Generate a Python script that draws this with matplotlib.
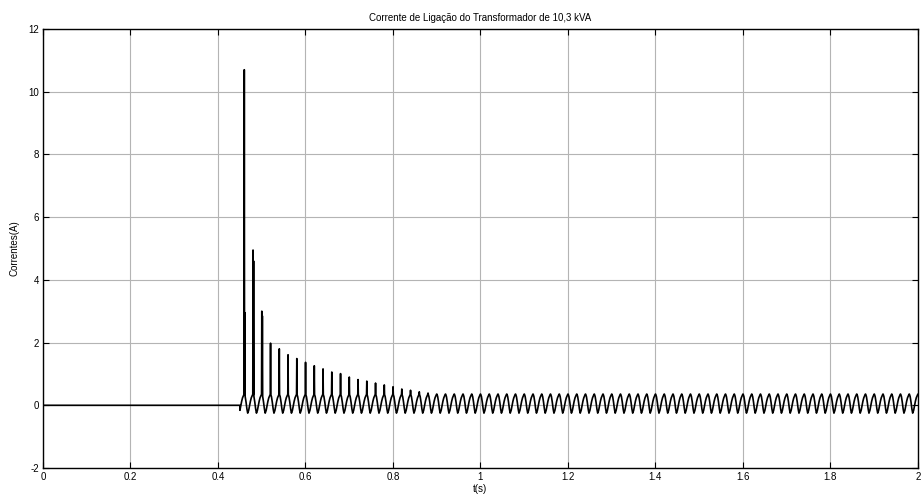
import matplotlib
matplotlib.use("Agg")
import matplotlib.pyplot as plt
from matplotlib.ticker import FuncFormatter

plt.rcParams['font.family'] = ['Liberation Sans', 'DejaVu Sans']

## Inrush current of the 10,3 kVA transformer
t_switch = 0.45          # switching instant (s)
t_first_spike = 0.4602   # first inrush peak (s)
period = 0.02            # 50 Hz

# peak of each inrush pulse, cycle by cycle (A)
spike_peaks = [10.7, 4.95, 3.0, 1.98, 1.80, 1.61, 1.49, 1.37, 1.26, 1.16,
               1.06, 1.01, 0.90, 0.82, 0.77, 0.71, 0.65, 0.59, 0.52, 0.48,
               0.43, 0.39, 0.36]
# smaller second peak right after the big one in the first cycles (A)
second_peaks = [2.95, 4.6, 2.85]
steady_peak = 0.36

# one cycle of the magnetising current, times relative to the peak (s) and levels (A)
cycle_dt = [-0.0122, -0.0100, -0.008, -0.006, -0.004, -0.002, -0.0006, 0.0,
            0.0006, 0.002, 0.004, 0.006, 0.0078]
cycle_y = [-0.25, -0.16, -0.01, 0.13, 0.24, 0.31, 0.35, None,
           0.34, 0.28, 0.10, -0.12, -0.25]

t_end = 2.0

t = [0.0, t_switch]
i = [0.0, 0.0]
k = 0
while True:
    ts = t_first_spike + k * period
    if ts - 0.0122 > t_end:
        break
    peak = spike_peaks[k] if k < len(spike_peaks) else steady_peak
    for dt, y in zip(cycle_dt, cycle_y):
        tt = ts + dt
        if tt <= t_switch:
            continue
        if k > 0 and dt == cycle_dt[0]:
            continue  # valley already added by previous cycle
        if y is None:
            y = peak
        t.append(tt)
        i.append(y)
        if dt == 0.0006 and k < len(second_peaks):
            t.append(ts + 0.0013)
            i.append(second_peaks[k])
            t.append(ts + 0.0020)
            i.append(0.3)
    k += 1

fig = plt.figure(figsize=(9.22, 4.95), dpi=100)
ax = fig.add_axes([0.0466, 0.0545, 0.949, 0.887])

ax.plot(t, i, color='k', linewidth=1.2)

ax.set_xlim(0, 2)
ax.set_ylim(-2, 12)
ax.set_xticks([0, 0.2, 0.4, 0.6, 0.8, 1.0, 1.2, 1.4, 1.6, 1.8, 2.0])
ax.set_yticks([-2, 0, 2, 4, 6, 8, 10, 12])
ax.xaxis.set_major_formatter(FuncFormatter(lambda v, p: '%g' % v))
ax.yaxis.set_major_formatter(FuncFormatter(lambda v, p: '%g' % v))
ax.tick_params(direction='in', length=4, width=0.8, labelsize=7,
               top=True, right=True, pad=3)
ax.grid(True, color='#b4b4b4', linewidth=0.8, linestyle='-')
ax.set_axisbelow(True)
for s in ax.spines.values():
    s.set_linewidth(1.0)

ax.set_title("Corrente de Ligação do Transformador de 10,3 kVA", fontsize=7, pad=6)
ax.set_xlabel("t(s)", fontsize=7, labelpad=1)
ax.set_ylabel("Correntes(A)", fontsize=7, labelpad=6)

fig.savefig("out.png", dpi=100)
